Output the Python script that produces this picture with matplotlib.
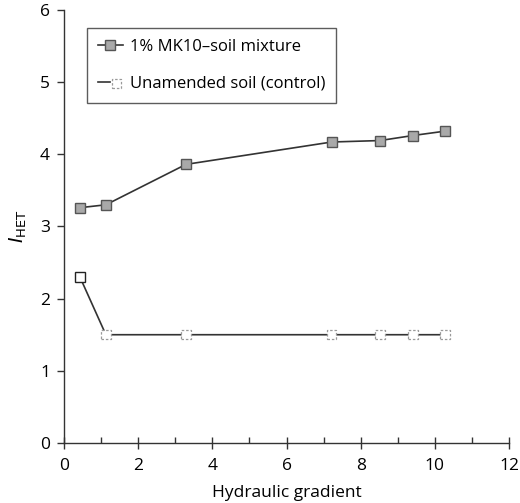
import matplotlib
matplotlib.use("Agg")
import matplotlib.pyplot as plt
from matplotlib.lines import Line2D
from matplotlib.legend_handler import HandlerTuple

plt.rcParams['font.family'] = ['Open Sans', 'DejaVu Sans']

mk_x = [0.43, 1.13, 3.29, 7.22, 8.52, 9.41, 10.27]
mk_y = [3.26, 3.30, 3.86, 4.17, 4.19, 4.26, 4.32]
ctl_x = [0.43, 1.13, 3.29, 7.22, 8.52, 9.41, 10.27]
ctl_y = [2.30, 1.50, 1.50, 1.50, 1.50, 1.50, 1.50]
xticks = [0, 2, 4, 6, 8, 10, 12]
yticks = [0, 1, 2, 3, 4, 5, 6]
labels = ['1% MK10\u2013soil mixture', 'Unamended soil (control)']

fig = plt.figure(figsize=(5.2, 5.03), dpi=100)
ax = fig.add_axes([0.123, 0.1193, 0.856, 0.861])

line_col = '#333333'
ax.plot(mk_x, mk_y, color=line_col, lw=1.2, marker='s', ms=7,
        mfc='#a9a9a9', mec='#555555', mew=1.0, zorder=3)
ax.plot(ctl_x, ctl_y, color=line_col, lw=1.2, zorder=2)
ax.plot(ctl_x[:1], ctl_y[:1], ls='none', marker='s', ms=7.5,
        mfc='white', mec='#222222', mew=1.0, zorder=3)
ax.scatter(ctl_x[1:], ctl_y[1:], marker='s', s=45, facecolors='white',
           edgecolors='#9a9a9a', linewidths=0.9, linestyles=(0, (2, 1.5)), zorder=3)

ax.set_xlim(0, 12)
ax.set_ylim(0, 6)
ax.set_xticks(xticks)
ax.set_yticks(yticks)
ax.set_xticks([1, 3, 5, 7, 9, 11], minor=True)
for s in ['top', 'right']:
    ax.spines[s].set_visible(False)
for s in ['left', 'bottom']:
    ax.spines[s].set_color('#333333')
    ax.spines[s].set_linewidth(1.0)
ax.tick_params(axis='x', which='major', direction='inout', length=8, width=1.0,
               color='#333333', labelsize=12.5, pad=7)
ax.tick_params(axis='x', which='minor', direction='in', length=4, width=1.0, color='#333333')
ax.tick_params(axis='y', which='major', direction='out', length=5, width=1.0,
               color='#333333', labelsize=12.5, pad=5)
ax.set_xlabel('Hydraulic gradient', fontsize=12.5, labelpad=8)
ax.set_ylabel(r'$\mathit{I}_{\mathrm{HET}}$', fontsize=13.5, labelpad=8)

h1 = Line2D([], [], color=line_col, lw=1.2, marker='s', ms=7,
            mfc='#a9a9a9', mec='#555555')
h2_line = Line2D([], [], color=line_col, lw=1.2)
h2_mark = ax.scatter([], [], marker='s', s=45, facecolors='white',
                     edgecolors='#9a9a9a', linewidths=0.9, linestyles=(0, (2, 1.5)))
leg = ax.legend([h1, (h2_line, h2_mark)], labels,
                handler_map={tuple: HandlerTuple(ndivide=None, pad=0)},
                loc='upper left', bbox_to_anchor=(0.052, 0.958), borderaxespad=0,
                fontsize=12.0, frameon=True, fancybox=False, edgecolor='#333333',
                handlelength=1.5, handletextpad=0.4, borderpad=0.65, labelspacing=1.25)
leg.get_frame().set_linewidth(1.0)

fig.savefig('out.png', dpi=100)
